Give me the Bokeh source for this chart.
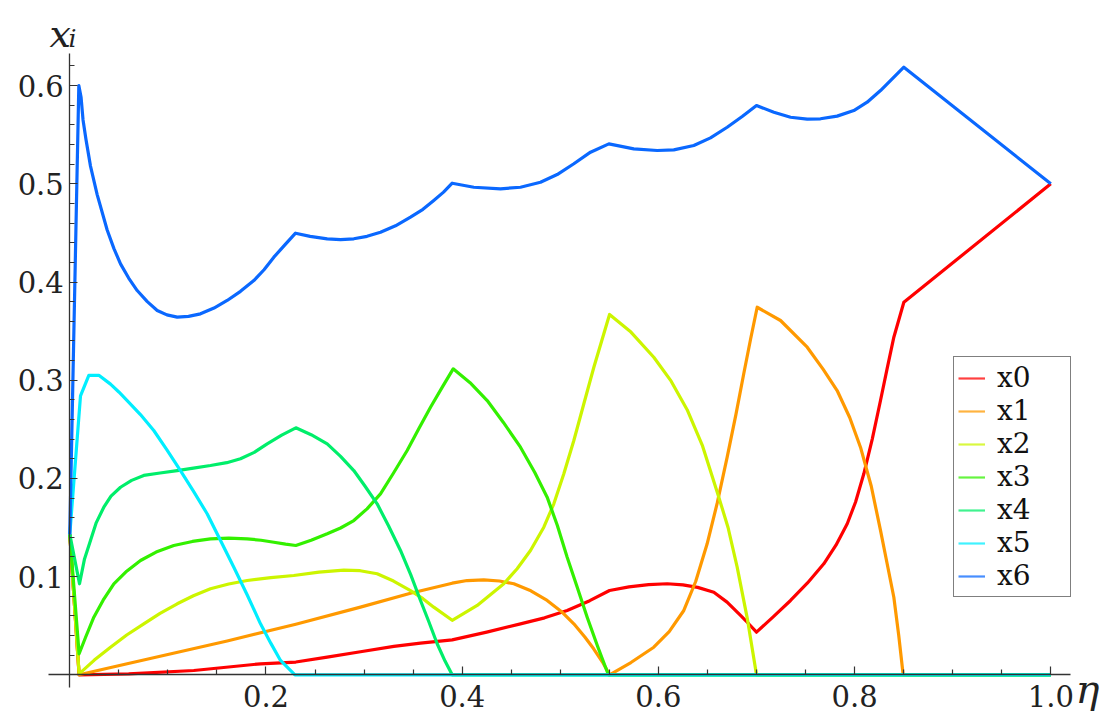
from bokeh.plotting import figure
from bokeh.models import (FixedTicker, NumeralTickFormatter, Label, Legend,
                          LegendItem, Range1d)
from bokeh.embed import file_html
from bokeh.resources import INLINE

series_names = ["x0", "x1", "x2", "x3", "x4", "x5", "x6"]
series_colors = ["#ff0000", "#ff9900", "#ccf500", "#33f000", "#00ee6a", "#00eeff", "#0a68ff"]

eta_x0 = [0, 0.0095, 0.06, 0.1264, 0.1944, 0.2304, 0.2624, 0.2963, 0.3303, 0.3575,
          0.3898, 0.425, 0.4594, 0.484, 0.507, 0.530, 0.5502, 0.570, 0.590, 0.609,
          0.625, 0.640, 0.6565, 0.670, 0.6837, 0.692, 0.700, 0.717, 0.7347, 0.752,
          0.7686, 0.781, 0.7925, 0.801, 0.8094, 0.818, 0.8264, 0.833, 0.840, 0.8502, 1.0]
val_x0 = [0.143, 0.0, 0.001, 0.0044, 0.0112, 0.0130, 0.0180, 0.0235, 0.0290, 0.0322,
          0.0356, 0.0435, 0.0519, 0.0580, 0.0655, 0.0755, 0.0858, 0.0895, 0.0918, 0.0927,
          0.0915, 0.0890, 0.0841, 0.0740, 0.0604, 0.0520, 0.0434, 0.0590, 0.0757, 0.0935,
          0.113, 0.132, 0.1538, 0.176, 0.2047, 0.240, 0.2793, 0.311, 0.3438, 0.3794, 0.5]

eta_x1 = [0, 0.0095, 0.0585, 0.1604, 0.2304, 0.2963, 0.3473, 0.3898, 0.405, 0.422,
          0.438, 0.4526, 0.470, 0.4866, 0.501, 0.5138, 0.525, 0.534, 0.543, 0.5502,
          0.572, 0.5953, 0.611, 0.6259, 0.638, 0.6497, 0.660, 0.6701, 0.679, 0.687,
          0.694, 0.7007, 0.7245, 0.7517, 0.768, 0.7822, 0.795, 0.806, 0.817, 0.8264,
          0.834, 0.840, 0.845, 0.8495, 1.0]
val_x1 = [0.143, 0.0, 0.0112, 0.0344, 0.0515, 0.0689, 0.0831, 0.0933, 0.0960, 0.0967,
          0.0955, 0.0927, 0.0855, 0.0757, 0.0645, 0.0519, 0.0385, 0.0265, 0.0130, 0.0,
          0.0125, 0.0281, 0.0440, 0.0655, 0.0950, 0.1334, 0.1750, 0.2216, 0.2650, 0.3065,
          0.3420, 0.3743, 0.3608, 0.3336, 0.3110, 0.2895, 0.2620, 0.2318, 0.1920, 0.147,
          0.1090, 0.079, 0.0400, 0.0, 0.0]

eta_x2 = [0, 0.0095, 0.025, 0.0415, 0.058, 0.0754, 0.092, 0.1095, 0.126, 0.1434,
          0.162, 0.1808, 0.205, 0.2283, 0.254, 0.2793, 0.296, 0.3133, 0.330, 0.3473,
          0.360, 0.371, 0.3898, 0.4153, 0.4424, 0.456, 0.4696, 0.4832, 0.4934, 0.5036,
          0.5138, 0.524, 0.5342, 0.5502, 0.572, 0.5953, 0.613, 0.6293, 0.645, 0.660,
          0.671, 0.6803, 0.6905, 0.700, 1.0]
val_x2 = [0.143, 0.001, 0.0150, 0.0281, 0.0405, 0.0519, 0.0625, 0.0723, 0.0805, 0.0876,
          0.0925, 0.096, 0.0990, 0.1011, 0.1045, 0.1065, 0.1060, 0.1029, 0.0955, 0.0858,
          0.0775, 0.0689, 0.0555, 0.0706, 0.0927, 0.108, 0.1266, 0.1503, 0.1741, 0.2047,
          0.2386, 0.276, 0.3132, 0.3669, 0.3490, 0.3234, 0.2990, 0.2700, 0.2330, 0.186,
          0.1500, 0.1096, 0.0580, 0.0, 0.0]

eta_x3 = [0, 0.0095, 0.016, 0.0245, 0.034, 0.0449, 0.058, 0.0721, 0.088, 0.106,
          0.125, 0.1434, 0.162, 0.1808, 0.195, 0.208, 0.220, 0.2304, 0.246, 0.2624,
          0.276, 0.2895, 0.303, 0.3167, 0.330, 0.3439, 0.356, 0.3677, 0.380, 0.3908,
          0.408, 0.4255, 0.442, 0.4594, 0.474, 0.4866, 0.497, 0.507, 0.517, 0.5274,
          0.538, 0.549, 1.0]
val_x3 = [0.143, 0.0214, 0.038, 0.0587, 0.076, 0.0927, 0.1055, 0.1164, 0.1250, 0.1317,
          0.1358, 0.1385, 0.1392, 0.1385, 0.1370, 0.135, 0.1330, 0.1317, 0.1370, 0.1436,
          0.1495, 0.1571, 0.1690, 0.1843, 0.2055, 0.2284, 0.2510, 0.2725, 0.2935, 0.3116,
          0.2975, 0.2793, 0.2570, 0.2318, 0.2060, 0.1809, 0.1520, 0.1198, 0.0900, 0.0587,
          0.0290, 0.0, 0.0]

eta_x4 = [0, 0.0099, 0.015, 0.0211, 0.027, 0.0347, 0.042, 0.0517, 0.063, 0.0754,
          0.092, 0.1095, 0.126, 0.1434, 0.160, 0.174, 0.188, 0.2012, 0.216, 0.2304,
          0.246, 0.2624, 0.276, 0.2895, 0.301, 0.3133, 0.325, 0.3371, 0.3475, 0.3575,
          0.366, 0.3745, 0.3825, 0.3898, 1.0]
val_x4 = [0.143, 0.0927, 0.118, 0.1368, 0.155, 0.1707, 0.182, 0.191, 0.198, 0.203,
          0.2055, 0.208, 0.2105, 0.2131, 0.2160, 0.22, 0.2265, 0.2352, 0.2440, 0.2515,
          0.2445, 0.2352, 0.2225, 0.208, 0.1920, 0.1741, 0.1515, 0.1266, 0.1020, 0.0757,
          0.0540, 0.0316, 0.0140, 0.0, 0.0]

eta_x5 = [0, 0.0109, 0.0194, 0.0296, 0.0415, 0.050, 0.0585, 0.072, 0.0856, 0.099,
          0.1128, 0.126, 0.140, 0.153, 0.1672, 0.181, 0.1944, 0.205, 0.2148, 0.2295, 1.0]
val_x5 = [0.143, 0.284, 0.305, 0.305, 0.296, 0.288, 0.2793, 0.265, 0.2488, 0.229,
          0.208, 0.187, 0.164, 0.138, 0.1096, 0.081, 0.0519, 0.032, 0.0146, 0.0, 0.0]

eta_x6 = [0, 0.0092, 0.0115, 0.0135, 0.0165, 0.0211, 0.0279, 0.0381, 0.045, 0.0517,
          0.060, 0.0687, 0.079, 0.0891, 0.099, 0.1095, 0.121, 0.1332, 0.147, 0.1604,
          0.174, 0.1876, 0.198, 0.208, 0.219, 0.2301, 0.245, 0.2624, 0.276, 0.2895,
          0.303, 0.3167, 0.332, 0.3473, 0.360, 0.371, 0.381, 0.3898, 0.4118, 0.439,
          0.4594, 0.4798, 0.4968, 0.5138, 0.5308, 0.5495, 0.5749, 0.5988, 0.6157, 0.6361,
          0.6531, 0.6701, 0.6854, 0.700, 0.7177, 0.7347, 0.7517, 0.7652, 0.7822, 0.7992,
          0.8128, 0.8264, 0.8383, 0.8502, 1.0]
val_x6 = [0.143, 0.600, 0.588, 0.565, 0.545, 0.518, 0.489, 0.453, 0.434, 0.4185,
          0.404, 0.3913, 0.380, 0.371, 0.3665, 0.3642, 0.3650, 0.3676, 0.3735, 0.3812,
          0.3905, 0.4015, 0.4125, 0.4253, 0.4375, 0.4497, 0.4465, 0.4440, 0.4432, 0.4440,
          0.4465, 0.4507, 0.4572, 0.4660, 0.4740, 0.4830, 0.4915, 0.5006, 0.4965, 0.4949,
          0.4965, 0.5016, 0.5094, 0.5204, 0.5322, 0.5407, 0.5356, 0.5339, 0.5346, 0.539,
          0.5468, 0.5576, 0.5685, 0.5797, 0.5729, 0.5678, 0.5658, 0.5662, 0.5689, 0.5746,
          0.5831, 0.595, 0.6069, 0.6187, 0.5]

x_major_ticks = [0.2, 0.4, 0.6, 0.8, 1.0]
x_minor_ticks = [0.05, 0.1, 0.15, 0.25, 0.3, 0.35, 0.45, 0.5, 0.55, 0.65, 0.7, 0.75,
                 0.85, 0.9, 0.95]
y_major_ticks = [0.1, 0.2, 0.3, 0.4, 0.5, 0.6]
y_minor_ticks = [0.02, 0.04, 0.06, 0.08, 0.12, 0.14, 0.16, 0.18, 0.22, 0.24, 0.26, 0.28,
                 0.32, 0.34, 0.36, 0.38, 0.42, 0.44, 0.46, 0.48, 0.52, 0.54, 0.56, 0.58, 0.62]

etas = [eta_x0, eta_x1, eta_x2, eta_x3, eta_x4, eta_x5, eta_x6]
vals = [val_x0, val_x1, val_x2, val_x3, val_x4, val_x5, val_x6]

# frame covers the whole canvas; axes sit at the origin
p = figure(width=1104, height=717, x_range=Range1d(-0.07064, 1.05474),
           y_range=Range1d(-0.04348, 0.68666), output_backend="svg",
           toolbar_location=None, title=None,
           min_border_left=0, min_border_right=0, min_border_top=0,
           min_border_bottom=0)
p.xgrid.visible = False
p.ygrid.visible = False
p.outline_line_color = None
p.background_fill_color = "white"
p.border_fill_color = "white"

for ax in (p.xaxis, p.yaxis):
    ax.fixed_location = 0
    ax.major_tick_in = 8
    ax.major_tick_out = 0
    ax.minor_tick_in = 5
    ax.minor_tick_out = 0
    ax.axis_line_width = 1.3
    ax.axis_line_color = "#333333"
    ax.major_tick_line_color = "#333333"
    ax.minor_tick_line_color = "#333333"
    ax.major_tick_line_width = 1.2
    ax.minor_tick_line_width = 1.2
    ax.major_label_text_font = "DejaVu Serif"
    ax.major_label_text_font_size = "29px"
    ax.major_label_text_color = "#222222"
    ax.formatter = NumeralTickFormatter(format="0.0")

p.xaxis.bounds = (-0.0214, 1.020)
p.yaxis.bounds = (-0.0133, 0.633)
p.xaxis.ticker = FixedTicker(ticks=x_major_ticks, minor_ticks=x_minor_ticks)
p.yaxis.ticker = FixedTicker(ticks=y_major_ticks, minor_ticks=y_minor_ticks)
p.xaxis.major_label_standoff = 10
p.yaxis.major_label_standoff = 6

for e, v, c in zip(etas, vals, series_colors):
    p.line(e, v, line_color=c, line_width=3.2, line_join="round")

items = []
for name, c in zip(series_names, series_colors):
    r = p.line([float("nan")], [float("nan")], line_color=c, line_width=2.2,
               line_alpha=0.75)
    items.append(LegendItem(label=name, renderers=[r]))

legend = Legend(items=items, location=(953, 120), orientation="vertical",
                padding=4, spacing=0, margin=0, glyph_width=27, glyph_height=30,
                label_height=30, label_width=69, label_standoff=12,
                label_text_font="DejaVu Serif", label_text_font_size="28px",
                label_text_line_height=1.0,
                label_text_color="#111111",
                border_line_color="black", border_line_width=1.5,
                background_fill_color="white", background_fill_alpha=1.0)
p.add_layout(legend)

p.add_layout(Label(x=49, y=684, x_units="screen", y_units="screen", text="x",
                   text_font="DejaVu Serif", text_font_style="italic",
                   text_font_size="38px", text_baseline="alphabetic",
                   text_color="#222222"))
p.add_layout(Label(x=68, y=679, x_units="screen", y_units="screen", text="i",
                   text_font="DejaVu Serif", text_font_style="italic",
                   text_font_size="25px", text_baseline="alphabetic",
                   text_color="#222222"))
p.add_layout(Label(x=1075, y=29, x_units="screen", y_units="screen", text="η",
                   text_font="DejaVu Serif", text_font_style="italic",
                   text_font_size="40px", text_baseline="alphabetic",
                   text_color="#222222"))

open("out.html", "w").write(file_html(p, INLINE))
